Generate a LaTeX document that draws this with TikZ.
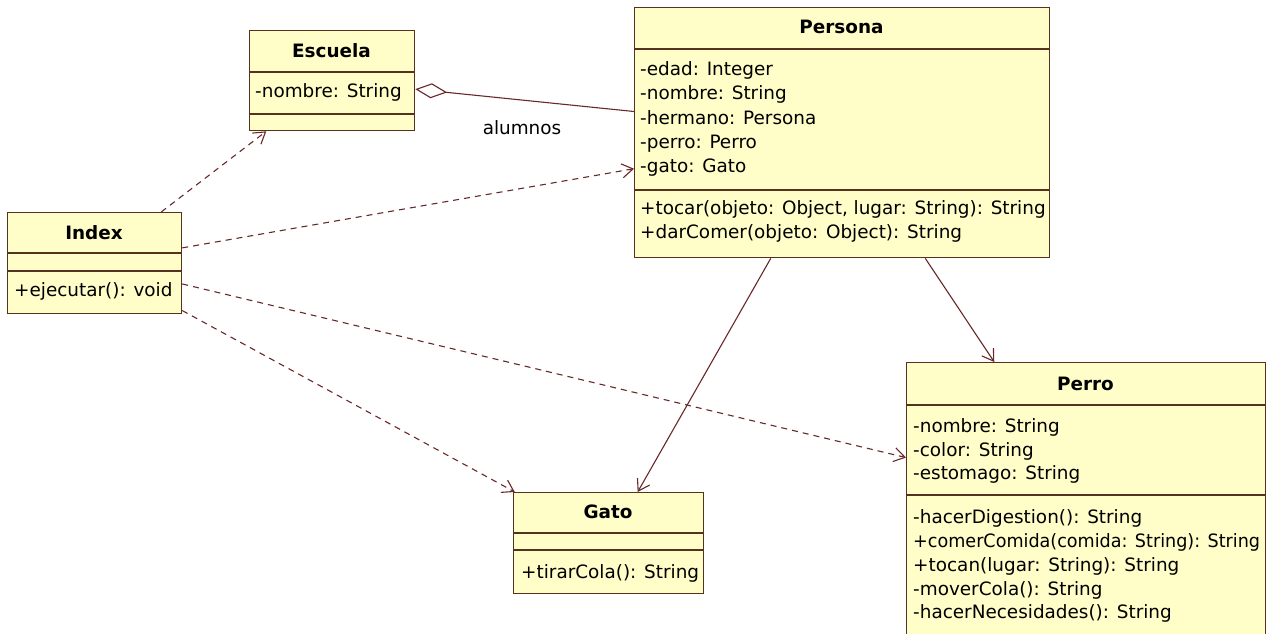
\documentclass[tikz,border=0pt]{standalone}
\usepackage{fontspec}
\setmainfont{DejaVu Sans}
\usetikzlibrary{arrows.meta}
\definecolor{fillc}{RGB}{255,253,200}
\definecolor{brd}{RGB}{85,50,30}
\definecolor{lnc}{RGB}{105,40,40}
\newcommand\umlfs{\fontsize{18.4}{24}\selectfont}
\tikzset{
  cls/.style={draw=brd, fill=fillc, line width=1.3pt, rectangle, inner sep=0pt, anchor=north west},
  sep/.style={draw=brd, line width=1.3pt},
  txt/.style={anchor=base west, inner sep=0pt, font=\umlfs, text=black},
  ttl/.style={anchor=base, inner sep=0pt, font=\umlfs\bfseries, text=black},
  dep/.style={draw=lnc, line width=1.1pt, dash pattern=on 6pt off 5pt, -{Straight Barb[length=11pt,width=14pt,line width=1.1pt]}},
  assoc/.style={draw=lnc, line width=1.1pt, -{Straight Barb[length=11pt,width=14pt,line width=1.1pt]}},
  aggr/.style={draw=lnc, line width=1.1pt, {Diamond[open,length=32pt,width=15pt,line width=1.1pt]}-},
}
\begin{document}
\begin{tikzpicture}[x=1pt,y=-1pt]
\useasboundingbox (0,0) rectangle (1268,634);
\clip (0,0) rectangle (1268,634);
\fill[white] (0,0) rectangle (1268,634);

% Escuela
\node[cls, minimum width=165pt, minimum height=100pt] (escuela) at (249,30) {};
\draw[sep] (249,72) -- (414,72);
\draw[sep] (249,114) -- (414,114);
\node[ttl] (escuelaT) at (331.5,57) {Escuela};
\node[txt] (escuelaA1) at (255,97) {-nombre: String};

% Persona
\node[cls, minimum width=415pt, minimum height=250pt] (persona) at (634,7) {};
\draw[sep] (634,49) -- (1049,49);
\draw[sep] (634,190) -- (1049,190);
\node[ttl] (personaT) at (841.5,34) {Persona};
\node[txt] (personaA1) at (640,75) {-edad: Integer};
\node[txt] (personaA2) at (640,99.5) {-nombre: String};
\node[txt] (personaA3) at (640,124) {-hermano: Persona};
\node[txt] (personaA4) at (640,148) {-perro: Perro};
\node[txt] (personaA5) at (640,172) {-gato: Gato};
\node[txt] (personaM1) at (640,214) {+tocar(objeto: Object, lugar: String): String};
\node[txt] (personaM2) at (640,238.5) {+darComer(objeto: Object): String};

% Index
\node[cls, minimum width=174pt, minimum height=101pt] (index) at (7,212) {};
\draw[sep] (7,253) -- (181,253);
\draw[sep] (7,271) -- (181,271);
\node[ttl] (indexT) at (94,239) {Index};
\node[txt] (indexM1) at (14,296) {+ejecutar(): void};

% Gato
\node[cls, minimum width=190pt, minimum height=101pt] (gato) at (513,492) {};
\draw[sep] (513,533) -- (703,533);
\draw[sep] (513,550) -- (703,550);
\node[ttl] (gatoT) at (608,518) {Gato};
\node[txt] (gatoM1) at (521,578) {+tirarCola(): String};

% Perro
\node[cls, minimum width=359pt, minimum height=276pt] (perro) at (906,362) {};
\draw[sep] (906,405) -- (1265,405);
\draw[sep] (906,495) -- (1265,495);
\node[ttl] (perroT) at (1085.5,390) {Perro};
\node[txt] (perroA1) at (913,432) {-nombre: String};
\node[txt] (perroA2) at (913,456) {-color: String};
\node[txt] (perroA3) at (913,479.5) {-estomago: String};
\node[txt] (perroM1) at (913,523) {-hacerDigestion(): String};
\node[txt, xscale=0.955, transform shape] (perroM2) at (913,547) {+comerComida(comida: String): String};
\node[txt] (perroM3) at (913,571) {+tocan(lugar: String): String};
\node[txt] (perroM4) at (913,595) {-moverCola(): String};
\node[txt] (perroM5) at (913,618.5) {-hacerNecesidades(): String};

% connectors
\draw[aggr] (escuela) -- (persona);
\node[txt, anchor=base] (alumnos) at (522,134) {alumnos};
\draw[dep] (index) -- (escuela);
\draw[dep] (index) -- (persona);
\draw[dep] (index) -- (perro);
\draw[dep] (index) -- (gato);
\draw[assoc] (persona) -- (gato);
\draw[assoc] (persona) -- (perro);
\end{tikzpicture}
\end{document}
